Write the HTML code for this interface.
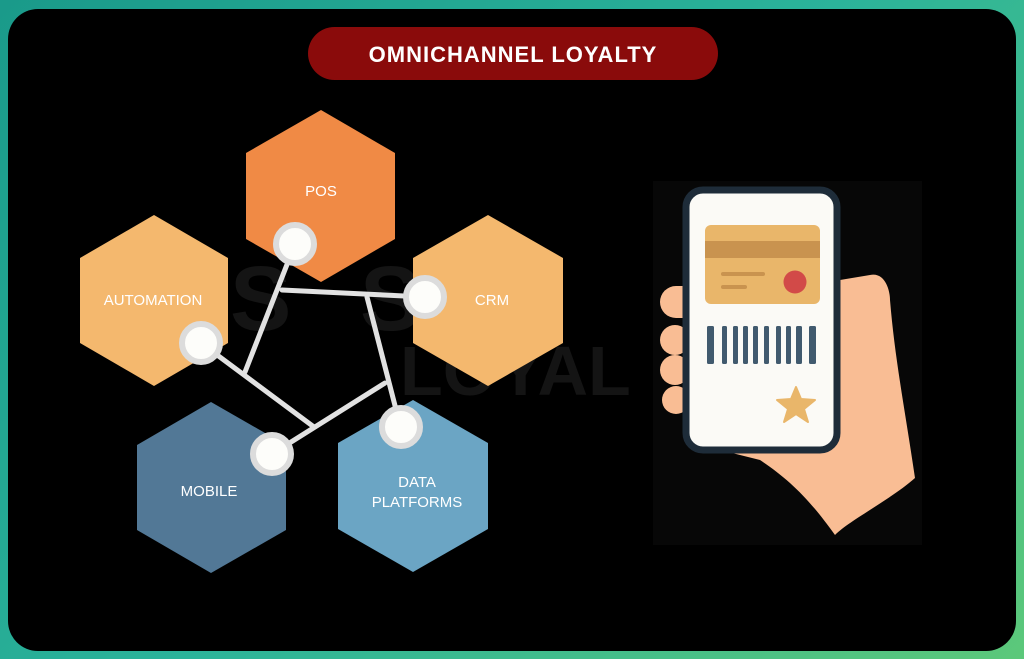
<!DOCTYPE html>
<html><head><style>
html,body{margin:0;padding:0;width:1024px;height:659px;overflow:hidden;background:linear-gradient(135deg,#1a9a8a,#2bb39a 50%,#5cc87a);}
</style></head><body>
<svg width="1024" height="659" viewBox="0 0 1024 659" xmlns="http://www.w3.org/2000/svg" style="position:absolute;left:0;top:0">
<rect x="8" y="9" width="1008" height="642" rx="30" fill="#000"/>
<rect x="308" y="27" width="410" height="53" rx="26.5" fill="#8a0b0b"/>
<text x="513" y="62" text-anchor="middle" font-family="Liberation Sans,sans-serif" font-weight="bold" font-size="22" fill="#fff" letter-spacing="1">OMNICHANNEL LOYALTY</text>
<g fill="#141414" font-family="Liberation Sans,sans-serif" font-weight="bold" font-size="92">
<text x="230" y="330">S</text><text x="360" y="330">SPL</text><text x="400" y="395" font-size="70">LOYAL</text>
</g>
<g font-family="Liberation Sans,sans-serif" font-size="15" fill="#fff" text-anchor="middle">
<polygon points="321,110 395,153 395,239 321,282 246,239 246,153" fill="#f08a45"/>
<text x="321" y="196">POS</text>
<polygon points="154,215 228,258 228,343 154,386 80,343 80,258" fill="#f4b86e"/>
<text x="153" y="305">AUTOMATION</text>
<polygon points="488,215 563,258 563,343 488,386 413,343 413,258" fill="#f4b86e"/>
<text x="492" y="305">CRM</text>
<polygon points="211,402 286,445 286,530 211,573 137,530 137,445" fill="#527896"/>
<text x="209" y="496">MOBILE</text>
<polygon points="413,400 488,443 488,529 413,572 338,529 338,443" fill="#6ba5c4"/>
<text x="417" y="487">DATA</text><text x="417" y="507">PLATFORMS</text>
</g>
<g stroke="#e2e2e2" stroke-width="5" fill="none" stroke-linecap="round">
<line x1="295" y1="244" x2="245" y2="372"/>
<line x1="282" y1="290" x2="425" y2="297"/>
<line x1="367" y1="297" x2="400" y2="425"/>
<line x1="385" y1="383" x2="272" y2="454"/>
<line x1="201" y1="343" x2="314" y2="427"/>
</g>
<g fill="#fdfdfa" stroke="#dcdcdc" stroke-width="6">
<circle cx="295" cy="244" r="19"/><circle cx="425" cy="297" r="19"/><circle cx="201" cy="343" r="19"/><circle cx="272" cy="454" r="19"/><circle cx="401" cy="427" r="19"/>
</g>
<rect x="653" y="181" width="269" height="364" fill="#070707"/>
<path d="M870,275 C885,272 890,290 890,300 C895,360 905,410 915,478 C890,500 850,520 835,535 C810,500 790,480 760,460 L720,450 L720,300 Z" fill="#f9bd94"/>
<g fill="#f9bd94">
<rect x="660" y="286" width="50" height="32" rx="16"/>
<rect x="660" y="325" width="30" height="30" rx="15"/>
<rect x="660" y="355" width="30" height="30" rx="15"/>
<rect x="662" y="386" width="28" height="28" rx="14"/>
</g>
<rect x="686" y="190" width="151" height="260" rx="17" fill="#fbfaf6" stroke="#1e2c39" stroke-width="7"/>
<rect x="705" y="225" width="115" height="79" rx="6" fill="#e9b66a"/>
<rect x="705" y="241" width="115" height="17" fill="#c9934f"/>
<rect x="721" y="272" width="44" height="4" rx="2" fill="#c9934f"/>
<rect x="721" y="285" width="26" height="4" rx="2" fill="#c9934f"/>
<circle cx="795" cy="282" r="11.5" fill="#d24a48"/>
<g fill="#415a6e">
<rect x="707" y="326" width="7" height="38" rx="1.5"/><rect x="722" y="326" width="5" height="38" rx="1.5"/><rect x="733" y="326" width="5" height="38" rx="1.5"/><rect x="743" y="326" width="5" height="38" rx="1.5"/><rect x="753" y="326" width="5" height="38" rx="1.5"/><rect x="764" y="326" width="5" height="38" rx="1.5"/><rect x="776" y="326" width="5" height="38" rx="1.5"/><rect x="786" y="326" width="5" height="38" rx="1.5"/><rect x="796" y="326" width="6" height="38" rx="1.5"/><rect x="809" y="326" width="7" height="38" rx="1.5"/>
</g>
<polygon points="796,387 801,399 815,400 804,409 808,422 796,414 784,422 788,409 777,400 791,399" fill="#e9b66a" stroke="#e9b66a" stroke-width="2" stroke-linejoin="round"/>
</svg>
</body></html>
